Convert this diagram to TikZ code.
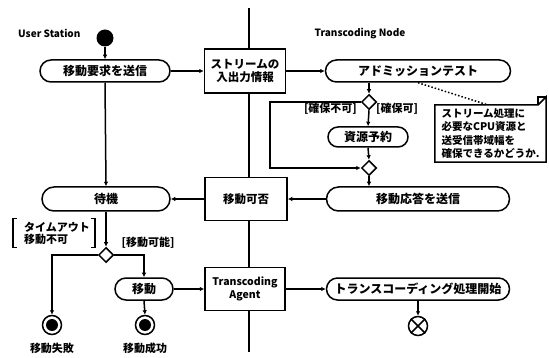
\documentclass[tikz,border=0pt]{standalone}
\usepackage{fontspec}
\setmainfont{Noto Sans CJK JP}
\usetikzlibrary{arrows.meta,shapes.geometric,shapes.misc}
\pgfdeclarelayer{background}
\pgfsetlayers{background,main}
\begin{document}
\begin{tikzpicture}[x=1pt,y=-1pt,
  every node/.style={font=\bfseries},
  act/.style={draw,rounded rectangle,line width=1.5pt,fill=white,minimum height=22pt,inner sep=0pt,font=\bfseries\fontsize{12}{13}\selectfont},
  obj/.style={draw,rectangle,line width=1.5pt,fill=white,inner sep=0pt,align=center,font=\bfseries\fontsize{11.5}{13}\selectfont},
  dec/.style={draw,diamond,line width=1.5pt,fill=white,minimum width=15pt,minimum height=15pt,inner sep=0pt},
  lbl/.style={inner sep=0pt,font=\bfseries\fontsize{11}{12}\selectfont},
  arr/.style={line width=1.5pt,-{Latex[length=4.5pt,width=4.5pt]}},
  ln/.style={line width=1.5pt},
  fin/.style={circle,draw,line width=1.5pt,minimum size=19pt,inner sep=0pt,fill=white}
]
\useasboundingbox (0,0) rectangle (549,358);
% swimlane divider
\draw[ln] (249,8) -- (249,352);
% lane labels
\node[lbl,font=\bfseries\fontsize{10}{11}\selectfont,anchor=west] (us) at (18,33) {User Station};
\node[lbl,font=\bfseries\fontsize{10}{11}\selectfont] (tn) at (360,34) {Transcoding Node};
% nodes
\node[circle,fill=black,minimum size=17pt,inner sep=0pt] (init) at (105,38) {};
\node[act,minimum width=130pt] (a1) at (105,71) {移動要求を送信};
\node[obj,minimum width=81pt,minimum height=44pt] (b1) at (245,71) {ストリームの\\入出力情報};
\node[act,minimum width=185pt] (a2) at (418,71) {アドミッションテスト};
\node[dec] (d1) at (369,102) {};
\node[act,minimum width=80pt,minimum height=20pt] (a3) at (368,137) {資源予約};
\node[dec] (d2) at (369,168) {};
\node[act,minimum width=183pt,minimum height=24pt] (a4) at (418,199) {移動応答を送信};
\node[obj,minimum width=82pt,minimum height=43pt] (b2) at (246,199) {移動可否};
\node[act,minimum width=128pt,minimum height=24pt] (a5) at (106,199) {待機};
\node[dec] (d3) at (106,255) {};
\node[act,minimum width=58pt] (a6) at (144,289) {移動};
\node[obj,minimum width=80pt,minimum height=43pt,font=\bfseries\fontsize{10.5}{13}\selectfont] (b3) at (245,289) {Transcoding\\Agent};
\node[act,minimum width=183pt] (a7) at (418,289) {トランスコーディング処理開始};
% final nodes
\node[fin] (f1) at (52,325) {};
\fill (f1) circle (6pt);
\node[fin] (f2) at (145,325) {};
\fill (f2) circle (6pt);
\node[fin] (ff) at (418,326) {};
\draw[ln] (ff.north west) -- (ff.south east) (ff.north east) -- (ff.south west);
% note
\node[lbl,minimum width=111pt,minimum height=57pt,align=left,font=\bfseries\fontsize{10.5}{13.5}\selectfont] (note) at (490.5,133.5) {ストリーム処理に\\必要なCPU資源と\\送受信帯域幅を\\確保できるかどうか.};
\begin{pgfonlayer}{background}
\draw[ln,fill=white] (note.north west) -- ([xshift=-8pt]note.north east) -- ([yshift=8pt]note.north east) -- (note.south east) -- (note.south west) -- cycle;
\draw[ln] ([xshift=-8pt]note.north east) -- ([xshift=-8pt,yshift=8pt]note.north east) -- ([yshift=8pt]note.north east);
\end{pgfonlayer}
\draw[line width=1.5pt,dotted] (a2.south) -- ([xshift=-3pt]note.north);
% labels
\node[lbl,anchor=east] (l1) at (357,109) {[確保不可]};
\node[lbl,anchor=west] (l2) at (376,109) {[確保可]};
\node[lbl] (l3) at (148,243) {[移動可能]};
\node[lbl,align=left,minimum width=82pt,minimum height=29pt] (l4) at (54,233) {\hspace*{6pt}タイムアウト\\\hspace*{6pt}移動不可};
\draw[ln] ([xshift=4pt]l4.north west) -- (l4.north west) -- (l4.south west) -- ([xshift=4pt]l4.south west);
\draw[ln] ([xshift=-4pt]l4.north east) -- (l4.north east) -- (l4.south east) -- ([xshift=-4pt]l4.south east);
\node[lbl] (t1) at (52,348) {移動失敗};
\node[lbl] (t2) at (145,348) {移動成功};
% edges
\draw[arr] (init) -- (a1.north);
\draw[arr] (a1.east) -- (b1.west);
\draw[arr] (b1.east) -- (a2.west);
\draw[arr] (d1 |- a2.south) -- (d1.north);
\draw[arr] (d1.south) -- (a3.north);
\draw[arr] (a3.south) -- (d2.north);
\draw[arr] (d1.west) -- ++(-91,0) |- (d2.west);
\draw[arr] (d2.south) -- (d2.south |- a4.north);
\draw[arr] (a4.west) -- (b2.east);
\draw[arr] (b2.west) -- (a5.east);
\draw[arr] (a1.south) -- (a5.north);
\draw[arr] (a5.south) -- (d3.north);
\draw[arr] (d3.west) -| (f1.north);
\draw[arr] (d3.east) -| (a6.north);
\draw[arr] (a6.south) -- (f2.north);
\draw[arr] (a6.east) -- (b3.west);
\draw[arr] (b3.east) -- (a7.west);
\draw[arr] (a7.south) -- (ff.north);
\end{tikzpicture}
\end{document}
